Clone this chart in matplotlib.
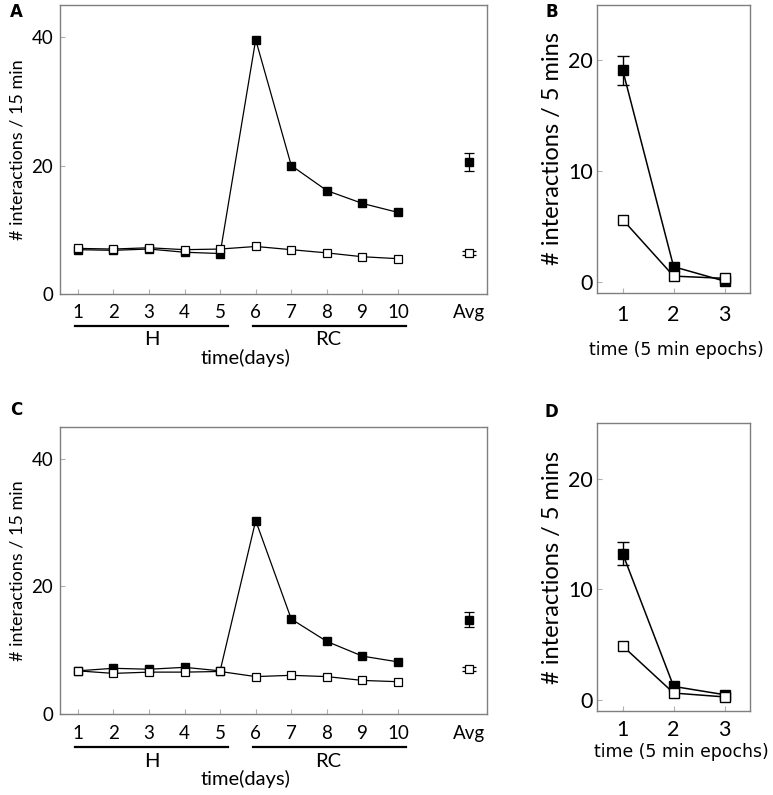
import matplotlib
matplotlib.use("Agg")
import matplotlib.pyplot as plt
import matplotlib.transforms as mtransforms

# ---- data ----
days = [1, 2, 3, 4, 5, 6, 7, 8, 9, 10]
avg_pos = 12
day_labels = ["1", "2", "3", "4", "5", "6", "7", "8", "9", "10", "", "Avg"]

a_filled = [6.9, 6.8, 7.0, 6.5, 6.3, 39.6, 20.0, 16.1, 14.1, 12.7]
a_open = [7.1, 7.0, 7.2, 6.9, 7.0, 7.4, 6.9, 6.4, 5.8, 5.5]
a_avg_filled, a_avg_filled_err = 20.5, 1.4
a_avg_open, a_avg_open_err = 6.4, 0.3

c_filled = [6.8, 7.2, 7.05, 7.35, 6.8, 30.3, 14.9, 11.4, 9.1, 8.2]
c_open = [6.8, 6.4, 6.6, 6.6, 6.7, 5.9, 6.1, 5.9, 5.3, 5.1]
c_avg_filled, c_avg_filled_err = 14.8, 1.2
c_avg_open, c_avg_open_err = 7.05, 0.3

epochs = [1, 2, 3]
b_filled = [19.1, 1.35, 0.05]
b_filled_err = [1.3, 0, 0]
b_open = [5.6, 0.5, 0.3]

d_filled = [13.2, 1.2, 0.45]
d_filled_err = [1.05, 0, 0]
d_open = [4.85, 0.6, 0.25]

FONT = ["Lato", "DejaVu Sans"]
SPINE = "#7f7f7f"
TICK = "#b0b0b0"

fig = plt.figure(figsize=(7.73, 7.95), dpi=100)


def style_axes(ax, tick_size, xpad, ypad):
    for s in ax.spines.values():
        s.set_color(SPINE)
        s.set_linewidth(1.0)
    ax.tick_params(direction="in", length=3.6, width=0.8, color=TICK,
                   labelsize=tick_size)
    ax.tick_params(axis="x", pad=xpad)
    ax.tick_params(axis="y", pad=ypad)
    for lab in ax.get_xticklabels() + ax.get_yticklabels():
        lab.set_family(FONT)


def day_panel(rect, filled, opn, avg_f, avg_f_err, avg_o, avg_o_err, bar_y, grp_y, xl_y):
    ax = fig.add_axes(rect)
    ax.plot(days, filled, "-s", color="black", mfc="black", mec="black",
            ms=6, lw=0.9, zorder=3)
    ax.plot(days, opn, "-s", color="black", mfc="white", mec="black",
            ms=6, mew=0.9, lw=0.9, zorder=4)
    ax.errorbar([avg_pos], [avg_f], yerr=[avg_f_err], fmt="s", color="black",
                mfc="black", ms=6, capsize=3.5, elinewidth=0.9, capthick=0.9)
    ax.errorbar([avg_pos], [avg_o], yerr=[avg_o_err], fmt="s", color="black",
                mfc="white", ms=6, mew=0.9, capsize=5, elinewidth=0.9, capthick=0.9)
    ax.set_xlim(0.5, 12.5)
    ax.set_ylim(0, 45)
    ax.set_yticks([0, 20, 40])
    ax.set_xticks(list(range(1, 13)))
    ax.set_xticklabels(day_labels)
    style_axes(ax, 13.5, 7.5, 5)
    for t in ax.xaxis.get_major_ticks()[10:]:
        t.tick1line.set_visible(False)
    ax.set_ylabel("# interactions / 15 min", family=FONT, fontsize=13, labelpad=4)

    tr = mtransforms.blended_transform_factory(ax.transData, ax.transAxes)
    ax.plot([0.93, 5.22], [bar_y, bar_y], color="black", lw=1.6,
            transform=tr, clip_on=False)
    ax.plot([5.93, 10.22], [bar_y, bar_y], color="black", lw=1.6,
            transform=tr, clip_on=False)
    ax.text(3.08, grp_y, "H", transform=tr, ha="center", va="center",
            family=FONT, fontsize=14.5)
    ax.text(8.05, grp_y, "RC", transform=tr, ha="center", va="center",
            family=FONT, fontsize=14.5)
    ax.text(5.72, xl_y, "time(days)", transform=tr, ha="center", va="center",
            family=FONT, fontsize=14.5)
    return ax


def epoch_panel(rect, filled, filled_err, opn, xl_x, xl_y, xpad):
    ax = fig.add_axes(rect)
    ax.plot(epochs, filled, "-", color="black", lw=1.1, zorder=3)
    ax.errorbar(epochs[:1], filled[:1], yerr=filled_err[:1], fmt="none",
                ecolor="black", capsize=4, elinewidth=1.0, capthick=1.0, zorder=3)
    ax.plot(epochs, filled, "s", mfc="black", mec="black", ms=7, zorder=3)
    ax.plot(epochs, opn, "-s", color="black", mfc="white", mec="black",
            ms=7, mew=1.0, lw=1.1, zorder=4)
    ax.set_xlim(0.5, 3.5)
    ax.set_ylim(-1, 25)
    ax.set_xticks(epochs)
    ax.set_yticks([0, 10, 20])
    style_axes(ax, 15.5, xpad, 3)
    ax.set_ylabel("# interactions / 5 mins", family=FONT, fontsize=17, labelpad=4)
    ax.text(xl_x, xl_y, "time (5 min epochs)", transform=ax.transAxes,
            ha="center", va="center", family="DejaVu Sans", fontsize=12.4)
    return ax


day_panel([0.0776, 0.6302, 0.5524, 0.3635], a_filled, a_open,
          a_avg_filled, a_avg_filled_err, a_avg_open, a_avg_open_err,
          -0.111, -0.159, -0.221)
day_panel([0.0776, 0.1015, 0.5524, 0.3618], c_filled, c_open,
          c_avg_filled, c_avg_filled_err, c_avg_open, c_avg_open_err,
          -0.115, -0.165, -0.226)
epoch_panel([0.7727, 0.6318, 0.1975, 0.3619], b_filled, b_filled_err, b_open,
             0.52, -0.199, 8.5)
epoch_panel([0.7727, 0.1060, 0.1975, 0.3615], d_filled, d_filled_err, d_open,
             0.55, -0.142, 6.5)

for lab, x, y in [("A", 0.0207, 0.985), ("B", 0.7137, 0.985),
                  ("C", 0.0207, 0.4843), ("D", 0.7128, 0.4818)]:
    fig.text(x, y, lab, ha="center", va="center", fontweight="bold",
             family="DejaVu Sans", fontsize=12)

fig.savefig("out.png", dpi=100)
